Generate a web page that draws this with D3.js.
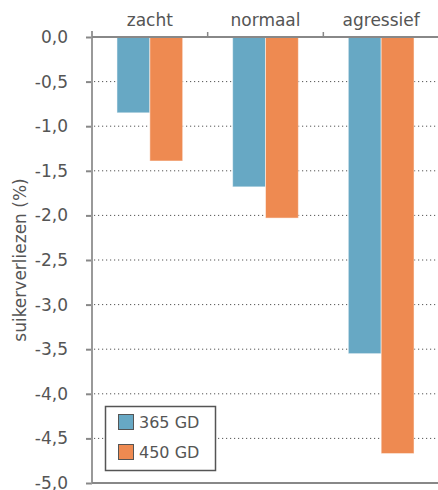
<!DOCTYPE html>
<html><head><meta charset="utf-8">
<script src="https://cdn.jsdelivr.net/npm/d3@7"></script>
<style>body{margin:0;background:#fff}</style>
</head><body><svg id="c" width="438" height="490"></svg>
<script>
const categories = ["zacht", "normaal", "agressief"];
const seriesNames = ["365 GD", "450 GD"];
const values365 = [-0.85, -1.68, -3.55];
const values450 = [-1.39, -2.03, -4.67];
const yTicks = [0, -0.5, -1, -1.5, -2, -2.5, -3, -3.5, -4, -4.5, -5];
const yTitle = "suikerverliezen (%)";
const colors = ["#67a8c4", "#ee8a51"];

(function(){
const svg = d3.select("#c");
const font = "'DejaVu Sans', sans-serif";
const mL = 92, mR = 439, mT = 37, mB = 483;

const x = d3.scaleBand().domain(categories).range([mL, mR]).paddingInner(0).paddingOuter(0);
const xs = d3.scaleBand().domain(seriesNames).range([0, x.bandwidth()]).paddingInner(0).paddingOuter(0.76);
const y = d3.scaleLinear().domain([0, -5]).range([mT, mB]);

// gridlines
svg.append("g").selectAll("line").data(yTicks.filter(d => d !== 0 && d !== -5)).join("line")
  .attr("x1", mL + 2).attr("x2", mR).attr("y1", d => y(d)).attr("y2", d => y(d))
  .attr("stroke", "#555").attr("stroke-width", 1).attr("stroke-dasharray", "1.2,2.8");

// bars
const data = [];
categories.forEach((c, i) => {
  data.push({c, s: seriesNames[0], v: values365[i], col: colors[0]});
  data.push({c, s: seriesNames[1], v: values450[i], col: colors[1]});
});
svg.append("g").selectAll("rect").data(data).join("rect")
  .attr("x", d => x(d.c) + xs(d.s))
  .attr("width", xs.bandwidth())
  .attr("y", y(0))
  .attr("height", d => y(d.v) - y(0))
  .attr("fill", d => d.col)
  .attr("stroke", "#ffffff").attr("stroke-opacity", 0.5).attr("stroke-width", 1);

// left axis
const yAxis = d3.axisLeft(y).tickValues(yTicks).tickSize(6).tickPadding(18)
  .tickFormat(d => d3.format(".1f")(d).replace(".", ",").replace("−", "-"));
const ga = svg.append("g").attr("transform", `translate(${mL},0)`).call(yAxis);
ga.select(".domain").remove();
ga.selectAll(".tick line").attr("stroke", "#888").attr("stroke-width", 2);
ga.selectAll(".tick text").attr("fill", "#555").style("font-family", font).style("font-size", "17px");
svg.append("line").attr("x1", mL).attr("x2", mL).attr("y1", mT - 6).attr("y2", mB + 1)
  .attr("stroke", "#999").attr("stroke-width", 2);

// top axis
const xAxis = d3.axisTop(x).tickSize(0).tickPadding(11);
const gx = svg.append("g").attr("transform", `translate(0,${mT})`).call(xAxis);
gx.select(".domain").remove();
gx.selectAll(".tick text").attr("fill", "#555").style("font-family", font).style("font-size", "17px");
svg.append("line").attr("x1", mL).attr("x2", mR).attr("y1", mT).attr("y2", mT)
  .attr("stroke", "#888").attr("stroke-width", 2);
svg.append("g").selectAll("line").data(categories.slice(1)).join("line")
  .attr("x1", d => x(d)).attr("x2", d => x(d)).attr("y1", mT).attr("y2", mT - 5)
  .attr("stroke", "#888").attr("stroke-width", 1.5);

// bottom line
svg.append("line").attr("x1", mL).attr("x2", mR).attr("y1", mB).attr("y2", mB)
  .attr("stroke", "#888").attr("stroke-width", 2);

// y title
svg.append("text").attr("transform", `translate(26,260) rotate(-90)`)
  .attr("text-anchor", "middle").attr("fill", "#555")
  .style("font-family", font).style("font-size", "17px").text(yTitle);

// legend
const lg = svg.append("g");
lg.append("rect").attr("x", 105.5).attr("y", 406.5).attr("width", 110).attr("height", 64)
  .attr("fill", "#fff").attr("stroke", "#555").attr("stroke-width", 1.5);
seriesNames.forEach((s, i) => {
  lg.append("rect").attr("x", 118.5).attr("y", 414.5 + i * 30).attr("width", 15).attr("height", 15)
    .attr("fill", colors[i]).attr("stroke", "#555").attr("stroke-width", 1);
  lg.append("text").attr("x", 139).attr("y", 428 + i * 30).attr("fill", "#555")
    .style("font-family", font).style("font-size", "16px").text(s);
});
})();
</script></body></html>
